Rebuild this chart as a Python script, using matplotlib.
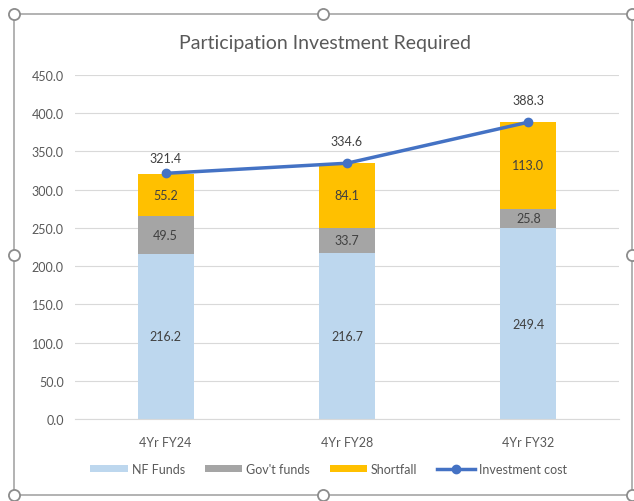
import matplotlib.pyplot as plt
from matplotlib.patches import Rectangle
from matplotlib.lines import Line2D
import numpy as np

plt.rcParams['font.family'] = ['Lato', 'DejaVu Sans']

categories = ['4Yr FY24', '4Yr FY28', '4Yr FY32']
nf_funds = [216.2, 216.7, 249.4]
govt_funds = [49.5, 33.7, 25.8]
shortfall = [55.2, 84.1, 113.0]
investment_cost = [321.4, 334.6, 388.3]

c_nf = '#BDD7EE'
c_gov = '#A5A5A5'
c_short = '#FFC000'
c_line = '#4472C4'
txt = '#595959'

fig = plt.figure(figsize=(6.34, 5.02), dpi=100)
ax = fig.add_axes([0.1183, 0.1633, 0.8580, 0.6853])

x = np.arange(len(categories))
w = 0.31
bottom2 = np.array(nf_funds)
bottom3 = bottom2 + np.array(govt_funds)

b1 = ax.bar(x, nf_funds, w, color=c_nf, label='NF Funds', zorder=2)
b2 = ax.bar(x, govt_funds, w, bottom=bottom2, color=c_gov, label="Gov't funds", zorder=2)
b3 = ax.bar(x, shortfall, w, bottom=bottom3, color=c_short, label='Shortfall', zorder=2)
ln, = ax.plot(x, investment_cost, color=c_line, lw=2.5, marker='o', ms=6, label='Investment cost', zorder=3)

# offsets of the line labels (Excel placed them a bit unevenly)
label_offsets = [7, 12, 12]

for i in range(len(x)):
    ax.text(x[i], nf_funds[i] / 2, f'{nf_funds[i]:.1f}', ha='center', va='center', fontsize=9, color='#404040')
    ax.text(x[i], bottom2[i] + govt_funds[i] / 2, f'{govt_funds[i]:.1f}', ha='center', va='center', fontsize=9, color='#404040')
    ax.text(x[i], bottom3[i] + shortfall[i] / 2, f'{shortfall[i]:.1f}', ha='center', va='center', fontsize=9, color='#404040')
    ax.annotate(f'{investment_cost[i]:.1f}', (x[i], investment_cost[i]), xytext=(0, label_offsets[i]),
                textcoords='offset points', ha='center', va='bottom', fontsize=9, color='#404040')

ax.set_xlim(-0.5, 2.5)
ax.set_ylim(0, 450)
ax.set_yticks(np.arange(0, 451, 50))
ax.set_yticklabels([f'{v:.1f}' for v in np.arange(0, 451, 50)])
ax.set_xticks(x)
ax.set_xticklabels(categories)
ax.tick_params(length=0, labelsize=9, colors=txt, pad=8)
ax.tick_params(axis='x', pad=12)
ax.grid(axis='y', color='#D9D9D9', lw=0.8, zorder=0)
for s in ['top', 'right', 'left']:
    ax.spines[s].set_visible(False)
ax.spines['bottom'].set_color('#D9D9D9')

fig.text(0.513, 0.913, 'Participation Investment Required', ha='center', va='center', fontsize=14, color=txt)

ax.legend([b1, b2, b3, ln], ['NF Funds', "Gov't funds", 'Shortfall', 'Investment cost'],
          loc='center', bbox_to_anchor=(0.466, -0.145), ncol=4, frameon=False, fontsize=9,
          labelcolor=txt, handlelength=3.0, handleheight=0.6, columnspacing=1.6, handletextpad=0.3)

# chart frame with selection handles
fx0, fx1 = 14 / 634, 632 / 634
fy0, fy1 = 1 - 496 / 502, 1 - 15 / 502
fig.add_artist(Rectangle((fx0, fy0), fx1 - fx0, fy1 - fy0, transform=fig.transFigure,
                         fill=False, ec='#A6A6A6', lw=1.2))
for hx in [fx0, (fx0 + fx1) / 2, fx1]:
    for hy in [fy0, (fy0 + fy1) / 2, fy1]:
        if hx == (fx0 + fx1) / 2 and hy == (fy0 + fy1) / 2:
            continue
        fig.add_artist(Line2D([hx], [hy], marker='o', ms=8, mfc='white', mec='#8C8C8C', mew=1.3,
                              transform=fig.transFigure))

fig.savefig('out.png', dpi=100)
